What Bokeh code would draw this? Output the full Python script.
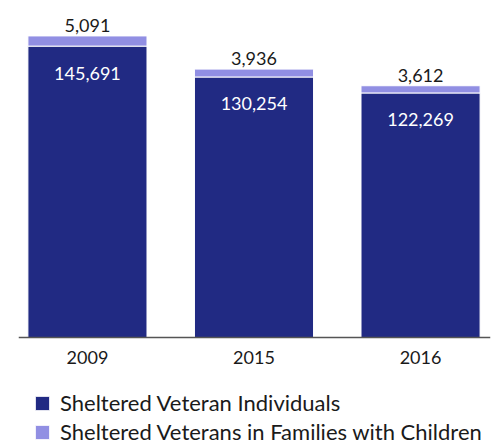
from bokeh.plotting import figure
from bokeh.models import ColumnDataSource, Range1d, Legend, LegendItem, FixedTicker
from bokeh.core.properties import value
from bokeh.embed import file_html
from bokeh.resources import INLINE

years = ["2009", "2015", "2016"]
individuals = [145691, 130254, 122269]
families = [5091, 3936, 3612]

DARK = "#212a83"
LIGHT = "#918fe3"
FONT = "Lato"

xs = list(range(len(years)))
totals = [a + b for a, b in zip(individuals, families)]
src = ColumnDataSource(dict(
    x=xs,
    ind=individuals,
    fam=families,
    tot=totals,
    ind_lbl=[f"{v:,}" for v in individuals],
    fam_lbl=[f"{v:,}" for v in families],
))

p = figure(frame_width=472, frame_height=446, output_backend="svg", toolbar_location=None,
           x_range=Range1d(-0.414, 2.420), y_range=Range1d(-54500, 168500),
           min_border_left=18, min_border_right=7, min_border_top=0, min_border_bottom=0)

r_dark = p.vbar(x="x", bottom=0, top="ind", width=0.715, source=src,
                fill_color=DARK, line_color="white", line_width=1)
r_light = p.vbar(x="x", bottom="ind", top="tot", width=0.715, source=src,
                 fill_color=LIGHT, line_color="white", line_width=1)

p.text(x="x", y="tot", text="fam_lbl", source=src, text_align="center",
       text_baseline="bottom", y_offset=-4, text_font=value(FONT),
       text_font_size="18px", text_color="#1a1a1a")
p.text(x="x", y="ind", text="ind_lbl", source=src, text_align="center",
       text_baseline="middle", y_offset=27, text_font=value(FONT),
       text_font_size="18px", text_color="white")

p.grid.visible = False
p.yaxis.visible = False
p.outline_line_color = None
p.background_fill_color = "white"
p.border_fill_color = "white"

ax = p.xaxis[0]
ax.fixed_location = 0
ax.ticker = FixedTicker(ticks=xs)
ax.major_label_overrides = {i: y for i, y in enumerate(years)}
ax.major_tick_line_color = None
ax.minor_tick_line_color = None
ax.axis_line_color = "#555555"
ax.axis_line_width = 1.5
ax.major_label_text_font = FONT
ax.major_label_text_font_size = "18px"
ax.major_label_text_color = "#1a1a1a"
ax.major_label_standoff = 7

legend = Legend(items=[
    LegendItem(label="Sheltered Veteran Individuals", renderers=[r_dark]),
    LegendItem(label="Sheltered Veterans in Families with Children", renderers=[r_light]),
], location=(15, 1), orientation="vertical")
legend.border_line_color = None
legend.background_fill_alpha = 0
legend.label_text_font = FONT
legend.label_text_font_size = "22px"
legend.label_text_color = "#1a1a1a"
legend.glyph_width = 18
legend.glyph_height = 18
legend.label_height = 20
legend.label_standoff = 9
legend.spacing = 2
legend.padding = 0
legend.margin = 0
p.add_layout(legend, "center")

open("out.html", "w").write(file_html(p, INLINE))
